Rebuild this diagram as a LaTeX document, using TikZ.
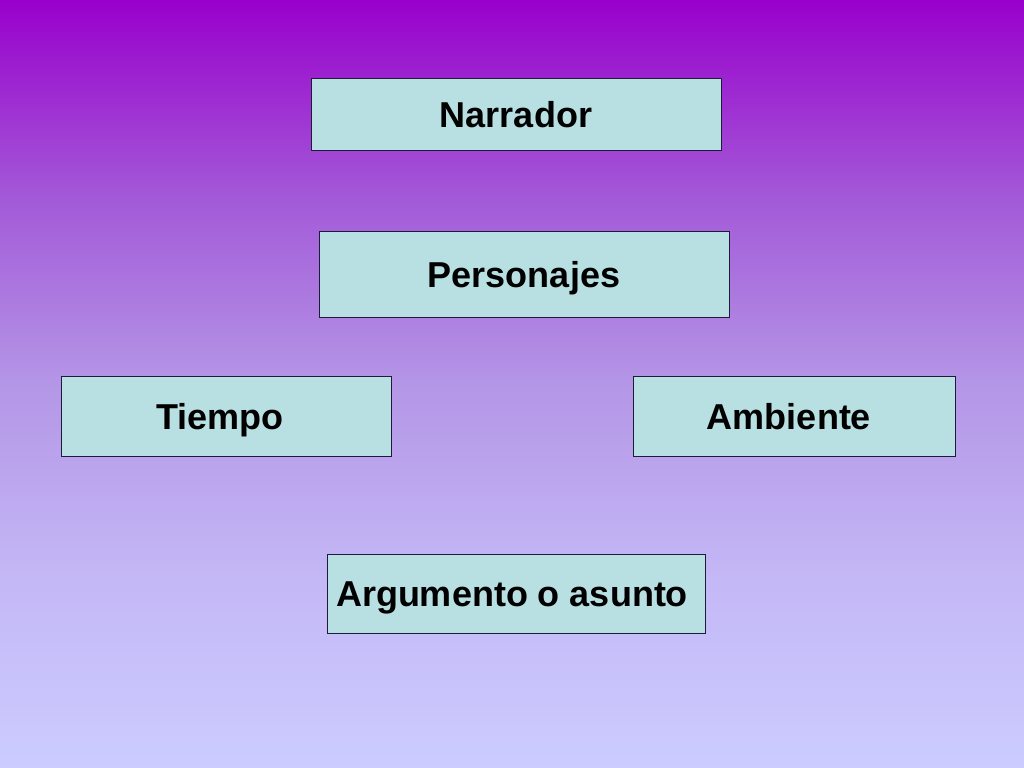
\documentclass[tikz,border=0pt]{standalone}
\usepackage{fontspec}
\setmainfont{Liberation Sans}
\definecolor{topbg}{HTML}{9900CC}
\definecolor{botbg}{HTML}{CCCCFF}
\definecolor{bgA}{RGB}{163,90,216}
\definecolor{bgB}{RGB}{180,150,230}
\definecolor{bgC}{RGB}{196,184,246}
\definecolor{boxfill}{HTML}{B8DFE1}
\definecolor{boxline}{HTML}{1E1B3A}
\pgfdeclareverticalshading{slidebg}{100bp}{color(0bp)=(botbg); color(25bp)=(botbg);
  color(37.25bp)=(bgC); color(50bp)=(bgB); color(62bp)=(bgA); color(75bp)=(topbg); color(100bp)=(topbg)}
\begin{document}
\begin{tikzpicture}[x=1bp,y=-1bp,
  card/.style={draw=boxline,line width=0.8bp,fill=boxfill,rectangle,inner sep=0pt,
    font=\fontsize{36bp}{40bp}\selectfont\bfseries,text=black,
    text height=26bp,text depth=0bp}]
\shade[shading=slidebg] (0,0) rectangle (1024,768);
\useasboundingbox (0,0) rectangle (1024,768);
\node[card,minimum width=410bp,minimum height=72bp] (narrador) at (516,114) {Narrador};
\node[card,minimum width=410bp,minimum height=86bp] (personajes) at (524,274) {Personajes};
\node[card,minimum width=330bp,minimum height=80bp] (tiempo) at (226,416) {Tiempo\hspace*{12bp}};
\node[card,minimum width=322bp,minimum height=80bp] (ambiente) at (794,416) {Ambiente\hspace*{10bp}};
\node[card,minimum width=378bp,minimum height=79bp] (argumento) at (516,593.5) {Argumento o asunto\hspace*{8bp}};
\end{tikzpicture}
\end{document}
